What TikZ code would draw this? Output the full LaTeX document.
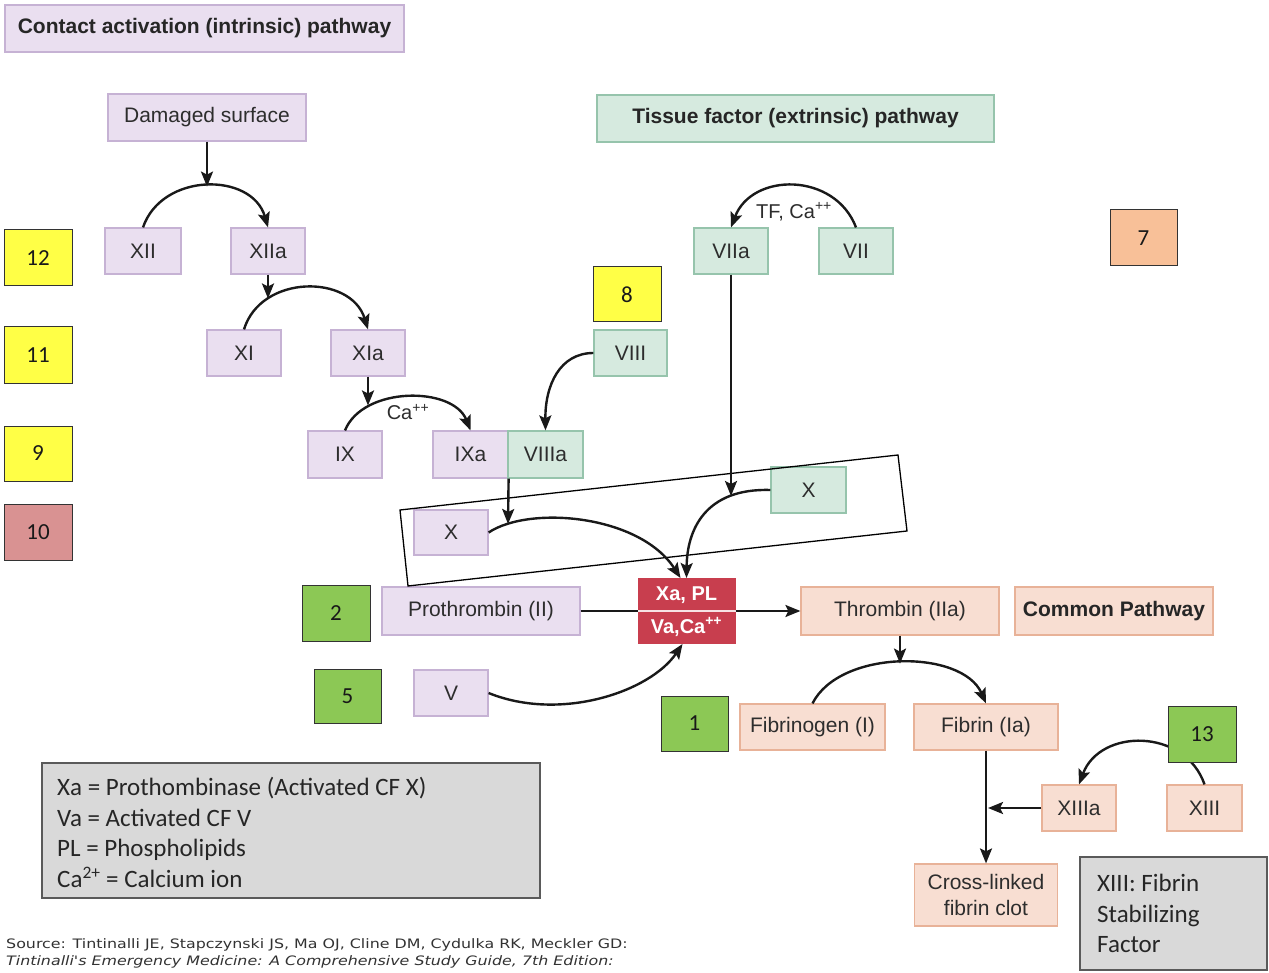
\documentclass[tikz,border=0pt]{standalone}
\usepackage{fontspec}
\setmainfont{Liberation Sans}
\newfontfamily\calib{Carlito}
\newfontfamily\verd[FakeStretch=1.22]{DejaVu Sans}
\usetikzlibrary{arrows.meta,calc}
\definecolor{purpfill}{RGB}{234,223,240}
\definecolor{purpdraw}{RGB}{198,178,212}
\definecolor{grnfill}{RGB}{214,234,223}
\definecolor{grndraw}{RGB}{150,196,172}
\definecolor{pchfill}{RGB}{248,222,210}
\definecolor{pchdraw}{RGB}{232,178,152}
\definecolor{xared}{RGB}{200,62,78}
\definecolor{txtc}{RGB}{45,45,45}
\definecolor{ylw}{RGB}{255,255,70}
\definecolor{nmgreen}{RGB}{140,200,85}
\definecolor{rose}{RGB}{217,146,146}
\definecolor{orng}{RGB}{248,192,152}
\definecolor{legfill}{RGB}{217,217,217}
\definecolor{legdraw}{RGB}{90,90,90}
\definecolor{srcc}{RGB}{50,50,50}
\tikzset{
  fbox/.style={line width=1.2pt, inner sep=0pt, minimum height=46pt, text=txtc, font=\fontsize{21}{24}\selectfont},
  pbox/.style={fbox, draw=purpdraw, fill=purpfill},
  gbox/.style={fbox, draw=grndraw, fill=grnfill},
  obox/.style={fbox, draw=pchdraw, fill=pchfill},
  nbox/.style={draw=black!80, line width=1pt, inner sep=0pt, minimum width=68pt, minimum height=56pt, font=\calib\fontsize{23}{26}\selectfont, text=black!90},
  arr/.style={-{Stealth[length=15pt,width=12pt,inset=3pt]}, line width=2.4pt, black!90},
  ln/.style={line width=2.4pt, black!90},
  lbl/.style={inner sep=0pt, text=txtc, font=\fontsize{20}{22}\selectfont},
  hbold/.style={font=\bfseries\fontsize{21}{24}\selectfont, text=black!85}
}
\begin{document}
\begin{tikzpicture}[x=1pt,y=-1pt]
\useasboundingbox (0,0) rectangle (1269,973);
\fill[white] (0,0) rectangle (1269,973);

% headers
\node[pbox, hbold, minimum width=399pt, minimum height=47pt] (title) at (204.5,28.5) {Contact activation (intrinsic) pathway};
\node[gbox, hbold, minimum width=397pt, minimum height=47pt] (tissue) at (795.5,118.5) {Tissue factor (extrinsic) pathway};

% intrinsic
\node[pbox, minimum width=198pt, minimum height=47pt] (dmg) at (207,117.5) {Damaged surface};
\node[pbox, minimum width=76pt] (XII) at (143,251) {XII};
\node[pbox, minimum width=74pt] (XIIa) at (268,251) {XIIa};
\node[pbox, minimum width=74pt] (XI) at (244,353) {XI};
\node[pbox, minimum width=74pt] (XIa) at (368,353) {XIa};
\node[pbox, minimum width=74pt, minimum height=47pt] (IX) at (345,454.5) {IX};
\node[pbox, minimum width=75pt, minimum height=47pt] (IXa) at (470.5,454.5) {IXa};
\node[gbox, minimum width=75pt, minimum height=47pt] (VIIIa) at (545.5,454.5) {VIIIa};
\node[gbox, minimum width=73pt] (VIII) at (630.5,353) {VIII};
\node[pbox, minimum width=74pt, minimum height=45pt] (Xp) at (451,532.5) {X};

% extrinsic
\node[gbox, minimum width=74pt] (VIIa) at (731,251) {VIIa};
\node[gbox, minimum width=74pt] (VII) at (856,251) {VII};
\node[gbox, minimum width=75pt] (Xg) at (808.5,490) {X};

% common
\node[draw=xared, fill=xared, line width=1pt, minimum width=97pt, minimum height=65pt, inner sep=0pt] (Xa) at (686.5,611) {};
\draw[white!85!xared, line width=1.5pt] (Xa.west) -- (Xa.east);
\node[inner sep=0pt, text=white, font=\bfseries\fontsize{20}{22}\selectfont] (XaT) at (686.5,595) {Xa, PL};
\node[inner sep=0pt, text=white, font=\bfseries\fontsize{20}{22}\selectfont] (XaB) at (686.5,627) {Va,Ca\textsuperscript{++}};
\node[pbox, minimum width=198pt, minimum height=48pt] (proth) at (481,611) {Prothrombin (II)};
\node[pbox, minimum width=74pt] (V) at (451,693) {V};
\node[obox, minimum width=198pt, minimum height=48pt] (thr) at (900,611) {Thrombin (IIa)};
\node[obox, hbold, minimum width=198pt, minimum height=48pt] (common) at (1114,611) {Common Pathway};
\node[obox, minimum width=145pt] (fibrinogen) at (812.5,727) {Fibrinogen (I)};
\node[obox, minimum width=144pt] (fibrin) at (986,727) {Fibrin (Ia)};
\node[obox, minimum width=143pt, minimum height=62pt, align=center, font=\fontsize{21}{26}\selectfont] (clot) at (986,895) {Cross-linked\\fibrin clot};
\node[obox, minimum width=74pt] (XIIIa) at (1079,808) {XIIIa};
\node[obox, minimum width=75pt] (XIII) at (1204.5,808) {XIII};

% rotated frame
\draw[black, line width=1.3pt] (400,510) -- (898,455) -- (907,531) -- (408,586) -- cycle;

% connectors: intrinsic
\coordinate (m1) at ($(dmg.south)+(0,45)$);
\draw[arr] (dmg.south) -- (m1);
\draw[arr] (XII.north) .. controls (162,172) and (252,172) .. (XIIa.north);
\coordinate (m2) at (268,298.5);
\draw[arr] (XIIa.south) -- (m2);
\draw[arr] (XI.north) .. controls (261,274) and (351,274) .. (XIa.north);
\coordinate (m3) at (368,405.5);
\draw[arr] (XIa.south) -- (m3);
\draw[arr] (IX.north) .. controls (363,386) and (453,386) .. (IXa.north);
\node[lbl] (ca1) at (408,412) {Ca\textsuperscript{++}};
\draw[arr] (VIII.west) .. controls (560,353) and (545,385) .. (VIIIa.north);
\coordinate (m4) at (508,524);
\draw[arr] (IXa.south east) -- (m4);
\draw[arr] (Xp.east) .. controls (530,505) and (640,515) .. ($(Xa.north)+(-6,0)$);

% connectors: extrinsic
\draw[arr] (VII.north) .. controls (835,172) and (752,172) .. (VIIa.north);
\node[lbl] (tfca) at (794,212) {TF, Ca\textsuperscript{++}};
\coordinate (m5) at (731,496);
\draw[arr] (VIIa.south) -- (m5);
\draw[arr] (Xg.west) .. controls (705,488) and (687,530) .. (Xa.north);

% common
\draw[ln] (proth.east) -- (Xa.west);
\draw[arr] (Xa.east) -- (thr.west);
\draw[arr] (V.east) .. controls (560,722) and (650,692) .. ($(Xa.south)+(-4,0)$);
\coordinate (m6) at ($(thr.south)+(0,28)$);
\draw[arr] (thr.south) -- (m6);
\draw[arr] (fibrinogen.north) .. controls (840,649) and (962,649) .. (fibrin.north);
\draw[arr] (fibrin.south) -- (clot.north);
\coordinate (J) at ($(fibrin.south |- XIIIa.west)+(2,0)$);
\draw[arr] (XIIIa.west) -- (J);
\draw[arr] (XIII.north) .. controls (1185,728) and (1100,728) .. (XIIIa.north);

% legend boxes
\node[draw=legdraw, fill=legfill, line width=1.2pt, minimum width=498pt, minimum height=135pt, inner sep=0pt] (legend) at (291,830.5) {};
\node[anchor=west, align=left, inner sep=0pt, text=black!85, font=\calib\fontsize{25}{30.5}\selectfont] (legtext) at (57,832.5)
  {Xa = Prothombinase (Activated CF X)\\Va = Activated CF V\\PL = Phospholipids\\Ca\textsuperscript{2+} = Calcium ion};
\node[draw=legdraw, fill=legfill, line width=1.2pt, minimum width=187pt, minimum height=113pt, inner sep=0pt] (fsf) at (1173.5,913.5) {};
\node[anchor=west, align=left, inner sep=0pt, text=black!85, font=\calib\fontsize{25}{30.5}\selectfont] (fsftext) at (1097,913.5)
  {XIII: Fibrin\\Stabilizing\\Factor};

% number boxes
\node[nbox, fill=ylw] (n12) at (38,258) {12};
\node[nbox, fill=ylw, minimum height=57pt] (n11) at (38,355.5) {11};
\node[nbox, fill=ylw, minimum height=55pt] (n9) at (38,453.5) {9};
\node[nbox, fill=rose] (n10) at (38,532) {10};
\node[nbox, fill=ylw, minimum height=55pt] (n8) at (627,294.5) {8};
\node[nbox, fill=orng, minimum width=67pt] (n7) at (1143.5,238) {7};
\node[nbox, fill=nmgreen] (n2) at (336,613) {2};
\node[nbox, fill=nmgreen, minimum width=67pt, minimum height=54pt] (n5) at (347.5,696) {5};
\node[nbox, fill=nmgreen, minimum width=67pt, minimum height=55pt] (n1) at (694.5,723.5) {1};
\node[nbox, fill=nmgreen] (n13) at (1202,734) {13};

% source
\node[anchor=north west, align=left, inner sep=0pt, text=srcc, font=\verd\fontsize{13}{17}\selectfont] (src) at (6,938)
  {Source: Tintinalli JE, Stapczynski JS, Ma OJ, Cline DM, Cydulka RK, Meckler GD:\\\itshape Tintinalli's Emergency Medicine: A Comprehensive Study Guide, 7th Edition:};
\end{tikzpicture}
\end{document}
